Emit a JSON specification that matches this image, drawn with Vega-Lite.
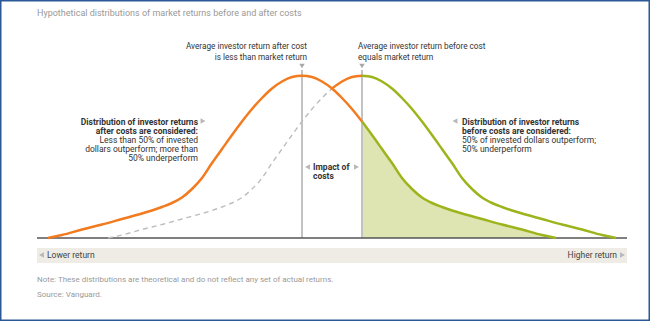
{
  "$schema": "https://vega.github.io/schema/vega-lite/v6.json",
  "width": 650,
  "height": 321,
  "padding": 0,
  "autosize": {"type": "none"},
  "background": "white",
  "config": {
    "view": {"stroke": "#2b5896", "strokeWidth": 3},
    "font": "Liberation Sans Narrow, Roboto",
    "text": {"font": "Liberation Sans Narrow, Roboto", "fontSize": 9, "color": "#333333", "baseline": "middle"}
  },
  "datasets": {
    "curves": [
      {"seg": "afterOrange", "x": 1.1, "y": 0},
      {"seg": "afterOrange", "x": 2.5, "y": 3},
      {"seg": "afterOrange", "x": 4.5, "y": 8.5},
      {"seg": "afterOrange", "x": 6.5, "y": 13.5},
      {"seg": "afterOrange", "x": 8.5, "y": 19},
      {"seg": "afterOrange", "x": 10.5, "y": 24.5},
      {"seg": "afterOrange", "x": 11.5, "y": 27.5},
      {"seg": "afterOrange", "x": 12.5, "y": 31},
      {"seg": "afterOrange", "x": 13.5, "y": 35},
      {"seg": "afterOrange", "x": 14.5, "y": 40.5},
      {"seg": "afterOrange", "x": 15.5, "y": 49},
      {"seg": "afterOrange", "x": 16.5, "y": 60},
      {"seg": "afterOrange", "x": 17.5, "y": 75},
      {"seg": "afterOrange", "x": 18.5, "y": 89},
      {"seg": "afterOrange", "x": 19.5, "y": 103},
      {"seg": "afterOrange", "x": 20.5, "y": 116.5},
      {"seg": "afterOrange", "x": 21.5, "y": 129},
      {"seg": "afterOrange", "x": 22.5, "y": 140},
      {"seg": "afterOrange", "x": 23.5, "y": 149.5},
      {"seg": "afterOrange", "x": 24.5, "y": 156.5},
      {"seg": "afterOrange", "x": 25.5, "y": 161},
      {"seg": "afterOrange", "x": 26.5, "y": 162.3},
      {"seg": "afterOrange", "x": 27.5, "y": 161},
      {"seg": "afterOrange", "x": 28.5, "y": 156.5},
      {"seg": "afterOrange", "x": 29.5, "y": 149.5},
      {"seg": "afterOrange", "x": 30.5, "y": 140},
      {"seg": "afterOrange", "x": 31.5, "y": 129},
      {"seg": "afterOrange", "x": 32.5, "y": 116.5},
      {"seg": "beforeOrange", "x": 29.5, "y": 149.5},
      {"seg": "beforeOrange", "x": 30.5, "y": 156.5},
      {"seg": "beforeOrange", "x": 31.5, "y": 161},
      {"seg": "beforeOrange", "x": 32.5, "y": 162.3},
      {"seg": "beforeDashed", "x": 7.1, "y": 0},
      {"seg": "beforeDashed", "x": 8.5, "y": 3},
      {"seg": "beforeDashed", "x": 10.5, "y": 8.5},
      {"seg": "beforeDashed", "x": 12.5, "y": 13.5},
      {"seg": "beforeDashed", "x": 14.5, "y": 19},
      {"seg": "beforeDashed", "x": 16.5, "y": 24.5},
      {"seg": "beforeDashed", "x": 17.5, "y": 27.5},
      {"seg": "beforeDashed", "x": 18.5, "y": 31},
      {"seg": "beforeDashed", "x": 19.5, "y": 35},
      {"seg": "beforeDashed", "x": 20.5, "y": 40.5},
      {"seg": "beforeDashed", "x": 21.5, "y": 49},
      {"seg": "beforeDashed", "x": 22.5, "y": 60},
      {"seg": "beforeDashed", "x": 23.5, "y": 75},
      {"seg": "beforeDashed", "x": 24.5, "y": 89},
      {"seg": "beforeDashed", "x": 25.5, "y": 103},
      {"seg": "beforeDashed", "x": 26.5, "y": 116.5},
      {"seg": "beforeDashed", "x": 27.5, "y": 129},
      {"seg": "beforeDashed", "x": 28.5, "y": 140},
      {"seg": "beforeDashed", "x": 29.5, "y": 149.5},
      {"seg": "beforeGreen", "x": 32.5, "y": 162.3},
      {"seg": "beforeGreen", "x": 33.5, "y": 161},
      {"seg": "beforeGreen", "x": 34.5, "y": 156.5},
      {"seg": "beforeGreen", "x": 35.5, "y": 149.5},
      {"seg": "beforeGreen", "x": 36.5, "y": 140},
      {"seg": "beforeGreen", "x": 37.5, "y": 129},
      {"seg": "beforeGreen", "x": 38.5, "y": 116.5},
      {"seg": "beforeGreen", "x": 39.5, "y": 103},
      {"seg": "beforeGreen", "x": 40.5, "y": 89},
      {"seg": "beforeGreen", "x": 41.5, "y": 75},
      {"seg": "beforeGreen", "x": 42.5, "y": 60},
      {"seg": "beforeGreen", "x": 43.5, "y": 49},
      {"seg": "beforeGreen", "x": 44.5, "y": 40.5},
      {"seg": "beforeGreen", "x": 45.5, "y": 35},
      {"seg": "beforeGreen", "x": 46.5, "y": 31},
      {"seg": "beforeGreen", "x": 47.5, "y": 27.5},
      {"seg": "beforeGreen", "x": 48.5, "y": 24.5},
      {"seg": "beforeGreen", "x": 50.5, "y": 19},
      {"seg": "beforeGreen", "x": 52.5, "y": 13.5},
      {"seg": "beforeGreen", "x": 54.5, "y": 8.5},
      {"seg": "beforeGreen", "x": 56.5, "y": 3},
      {"seg": "beforeGreen", "x": 57.9, "y": 0},
      {"seg": "afterGreen", "x": 32.5, "y": 116.5},
      {"seg": "afterGreen", "x": 33.5, "y": 103},
      {"seg": "afterGreen", "x": 34.5, "y": 89},
      {"seg": "afterGreen", "x": 35.5, "y": 75},
      {"seg": "afterGreen", "x": 36.5, "y": 60},
      {"seg": "afterGreen", "x": 37.5, "y": 49},
      {"seg": "afterGreen", "x": 38.5, "y": 40.5},
      {"seg": "afterGreen", "x": 39.5, "y": 35},
      {"seg": "afterGreen", "x": 40.5, "y": 31},
      {"seg": "afterGreen", "x": 41.5, "y": 27.5},
      {"seg": "afterGreen", "x": 42.5, "y": 24.5},
      {"seg": "afterGreen", "x": 44.5, "y": 19},
      {"seg": "afterGreen", "x": 46.5, "y": 13.5},
      {"seg": "afterGreen", "x": 48.5, "y": 8.5},
      {"seg": "afterGreen", "x": 50.5, "y": 3},
      {"seg": "afterGreen", "x": 51.9, "y": 0}
    ],
    "vlines": [{"x": 26.5, "y": 0, "y2": 168}, {"x": 32.5, "y": 0, "y2": 168}],
    "band": [{"x": 0, "x2": 59, "y": -10, "y2": -25}],
    "base": [{"x": 0, "x2": 59, "y": 0}],
    "tri": [
      {"x": 26.5, "y": 172, "shape": "triangle-down"},
      {"x": 32.5, "y": 172, "shape": "triangle-down"}
    ],
    "sidetri": [
      {"x": 16.6, "y": 117, "shape": "triangle-right"},
      {"x": 41.8, "y": 117, "shape": "triangle-left"},
      {"x": 27.05, "y": 71, "shape": "triangle-left"},
      {"x": 31.95, "y": 71, "shape": "triangle-right"},
      {"x": 0.45, "y": -17, "shape": "triangle-left"},
      {"x": 58.55, "y": -17, "shape": "triangle-right"}
    ],
    "labels": [
      {"g": "title", "x": 0, "y": 225, "text": "Hypothetical distributions of market returns before and after costs"},
      {"g": "note", "x": 0, "y": -41.5, "text": "Note: These distributions are theoretical and do not reflect any set of actual returns."},
      {"g": "note", "x": 0, "y": -56.5, "text": "Source: Vanguard."},
      {"g": "topR", "x": 27, "y": 191, "text": "Average investor return after cost"},
      {"g": "topR", "x": 27, "y": 180, "text": "is less than market return"},
      {"g": "topL", "x": 32.1, "y": 191, "text": "Average investor return before cost"},
      {"g": "topL", "x": 32.1, "y": 180, "text": "equals market return"},
      {"g": "leftBold", "x": 16.1, "y": 116.5, "text": "Distribution of investor returns"},
      {"g": "leftBold", "x": 16.1, "y": 107.5, "text": "after costs are considered:"},
      {"g": "leftReg", "x": 16.1, "y": 98.5, "text": "Less than 50% of invested"},
      {"g": "leftReg", "x": 16.1, "y": 89.5, "text": "dollars outperform; more than"},
      {"g": "leftReg", "x": 16.1, "y": 80.5, "text": "50% underperform"},
      {"g": "rightBold", "x": 42.5, "y": 116.5, "text": "Distribution of investor returns"},
      {"g": "rightBold", "x": 42.5, "y": 107.5, "text": "before costs are considered:"},
      {"g": "rightReg", "x": 42.5, "y": 98.5, "text": "50% of invested dollars outperform;"},
      {"g": "rightReg", "x": 42.5, "y": 89.5, "text": "50% underperform"},
      {"g": "impact", "x": 27.6, "y": 71, "text": "Impact of"},
      {"g": "impact", "x": 27.6, "y": 62, "text": "costs"},
      {"g": "bandL", "x": 1.0, "y": -17, "text": "Lower return"},
      {"g": "bandR", "x": 58.0, "y": -17, "text": "Higher return"}
    ]
  },
  "encoding": {
    "x": {"field": "x", "type": "quantitative", "scale": {"domain": [-3.7, 61.3], "nice": false, "zero": false}, "axis": null},
    "y": {"field": "y", "type": "quantitative", "scale": {"domain": [-83, 238], "nice": false, "zero": false}, "axis": null}
  },
  "layer": [
    {
      "data": {"name": "band"},
      "mark": {"type": "rect", "color": "#efece5"},
      "encoding": {"x2": {"field": "x2"}, "y2": {"field": "y2"}}
    },
    {
      "data": {"name": "curves"},
      "transform": [{"filter": "datum.seg == 'afterGreen'"}],
      "mark": {"type": "area", "color": "#dfe4b3", "interpolate": "monotone"},
      "encoding": {"y2": {"datum": 0}}
    },
    {
      "data": {"name": "vlines"},
      "mark": {"type": "rule", "color": "#c2c2c2", "strokeWidth": 2},
      "encoding": {"y2": {"field": "y2"}}
    },
    {
      "data": {"name": "base"},
      "mark": {"type": "rule", "color": "#555555", "strokeWidth": 1.5},
      "encoding": {"x2": {"field": "x2"}}
    },
    {
      "data": {"name": "curves"},
      "transform": [{"filter": "datum.seg == 'beforeDashed'"}],
      "mark": {"type": "line", "color": "#bdbdbd", "strokeWidth": 1.4, "strokeDash": [5, 4], "interpolate": "monotone"},
      "encoding": {}
    },
    {
      "data": {"name": "curves"},
      "transform": [{"filter": "datum.seg == 'beforeGreen'"}],
      "mark": {"type": "line", "color": "#9db41c", "strokeWidth": 2.5, "interpolate": "monotone"},
      "encoding": {}
    },
    {
      "data": {"name": "curves"},
      "transform": [{"filter": "datum.seg == 'afterGreen'"}],
      "mark": {"type": "line", "color": "#9db41c", "strokeWidth": 2.5, "interpolate": "monotone"},
      "encoding": {}
    },
    {
      "data": {"name": "curves"},
      "transform": [{"filter": "datum.seg == 'afterOrange'"}],
      "mark": {"type": "line", "color": "#f27b1f", "strokeWidth": 2.5, "interpolate": "monotone"},
      "encoding": {}
    },
    {
      "data": {"name": "curves"},
      "transform": [{"filter": "datum.seg == 'beforeOrange'"}],
      "mark": {"type": "line", "color": "#f27b1f", "strokeWidth": 2.5, "interpolate": "monotone"},
      "encoding": {}
    },
    {
      "data": {"name": "tri"},
      "mark": {"type": "point", "filled": true, "color": "#a8a8a8", "size": 30, "opacity": 1},
      "encoding": {"shape": {"field": "shape", "type": "nominal", "scale": null}}
    },
    {
      "data": {"name": "sidetri"},
      "mark": {"type": "point", "filled": true, "color": "#b8b8b8", "size": 32, "opacity": 1},
      "encoding": {"shape": {"field": "shape", "type": "nominal", "scale": null}}
    },
    {
      "data": {"name": "labels"},
      "transform": [{"filter": "datum.g == 'title'"}],
      "mark": {"type": "text", "align": "left", "fontSize": 9, "color": "#999999"},
      "encoding": {"text": {"field": "text"}}
    },
    {
      "data": {"name": "labels"},
      "transform": [{"filter": "datum.g == 'note'"}],
      "mark": {"type": "text", "align": "left", "fontSize": 8, "color": "#9a9a9a"},
      "encoding": {"text": {"field": "text"}}
    },
    {
      "data": {"name": "labels"},
      "transform": [{"filter": "datum.g == 'topR'"}],
      "mark": {"type": "text", "align": "right", "fontSize": 8.2},
      "encoding": {"text": {"field": "text"}}
    },
    {
      "data": {"name": "labels"},
      "transform": [{"filter": "datum.g == 'topL'"}],
      "mark": {"type": "text", "align": "left", "fontSize": 8.2},
      "encoding": {"text": {"field": "text"}}
    },
    {
      "data": {"name": "labels"},
      "transform": [{"filter": "datum.g == 'leftBold'"}],
      "mark": {"type": "text", "align": "right", "fontSize": 8.5, "fontWeight": "bold"},
      "encoding": {"text": {"field": "text"}}
    },
    {
      "data": {"name": "labels"},
      "transform": [{"filter": "datum.g == 'leftReg'"}],
      "mark": {"type": "text", "align": "right", "fontSize": 8.5},
      "encoding": {"text": {"field": "text"}}
    },
    {
      "data": {"name": "labels"},
      "transform": [{"filter": "datum.g == 'rightBold'"}],
      "mark": {"type": "text", "align": "left", "fontSize": 8.5, "fontWeight": "bold"},
      "encoding": {"text": {"field": "text"}}
    },
    {
      "data": {"name": "labels"},
      "transform": [{"filter": "datum.g == 'rightReg'"}],
      "mark": {"type": "text", "align": "left", "fontSize": 8.5},
      "encoding": {"text": {"field": "text"}}
    },
    {
      "data": {"name": "labels"},
      "transform": [{"filter": "datum.g == 'impact'"}],
      "mark": {"type": "text", "align": "left", "fontSize": 8.5, "fontWeight": "bold"},
      "encoding": {"text": {"field": "text"}}
    },
    {
      "data": {"name": "labels"},
      "transform": [{"filter": "datum.g == 'bandL'"}],
      "mark": {"type": "text", "align": "left", "fontSize": 8.5, "color": "#444444"},
      "encoding": {"text": {"field": "text"}}
    },
    {
      "data": {"name": "labels"},
      "transform": [{"filter": "datum.g == 'bandR'"}],
      "mark": {"type": "text", "align": "right", "fontSize": 8.5, "color": "#444444"},
      "encoding": {"text": {"field": "text"}}
    }
  ]
}
